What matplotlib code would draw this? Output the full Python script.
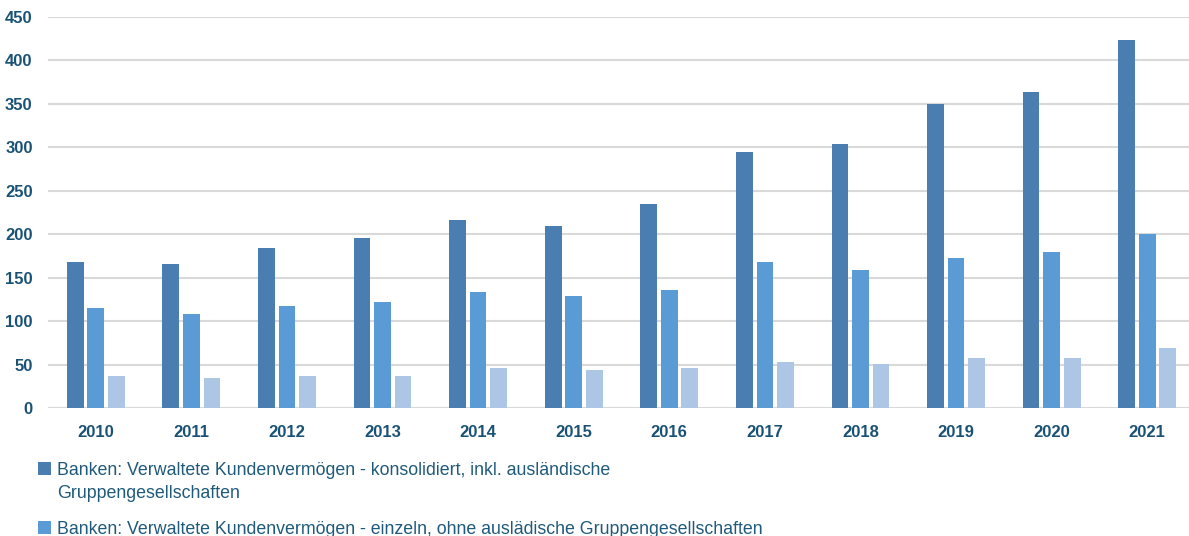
import matplotlib
matplotlib.use("Agg")
import matplotlib.pyplot as plt
from matplotlib.patches import Patch
import numpy as np

years = ["2010", "2011", "2012", "2013", "2014", "2015", "2016", "2017", "2018", "2019", "2020", "2021"]
konsolidiert = [168, 166, 184, 196, 216, 209, 235, 295, 304, 350, 364, 423]
einzeln = [115, 108, 117, 122, 133, 129, 136, 168, 159, 173, 180, 200]
dritte = [37, 35, 37, 37, 46, 44, 46, 53, 51, 58, 58, 69]

label1a = "Banken: Verwaltete Kundenvermögen - konsolidiert, inkl. ausländische"
label1b = "Gruppengesellschaften"
label2 = "Banken: Verwaltete Kundenvermögen - einzeln, ohne auslädische Gruppengesellschaften"

c1, c2, c3 = "#4a7eb0", "#5b9bd5", "#adc6e5"
tick_color = "#1a5276"
text_color = "#1f5a7a"
fam = ["Liberation Sans", "DejaVu Sans"]

W, H = 1189, 536
fig = plt.figure(figsize=(W / 100, H / 100), dpi=100)
ax = fig.add_axes([48 / W, (H - 408) / H, 1147 / W, 391 / H])

x = np.arange(len(years))
bw = 0.175
step = 0.215
b1 = ax.bar(x - step, konsolidiert, bw, color=c1, zorder=3)
b2 = ax.bar(x, einzeln, bw, color=c2, zorder=3)
b3 = ax.bar(x + step, dritte, bw, color=c3, zorder=3)

ax.set_xlim(-0.5, len(years) - 0.5)
ax.set_ylim(0, 450)
ax.set_yticks(np.arange(0, 451, 50))
ax.set_xticks(x)
ax.set_xticklabels(years)
ax.yaxis.grid(True, color="#d9d9d9", linewidth=1.5, zorder=0)
ax.set_axisbelow(True)
for s in ax.spines.values():
    s.set_visible(False)
ax.tick_params(axis="both", length=0, colors=tick_color)
ax.tick_params(axis="y", pad=11)
ax.tick_params(axis="x", pad=12)
for lab in ax.get_xticklabels() + ax.get_yticklabels():
    lab.set_fontfamily(fam)
    lab.set_fontweight("bold")
    lab.set_fontsize(12)
    lab.set_color(tick_color)

blank = Patch(facecolor="none", edgecolor="none")
prop = {"family": fam, "size": 12.8}
legA = fig.legend([b1, blank], [label1a, label1b], loc="upper left",
                  bbox_to_anchor=(22 / W, (H - 446) / H), frameon=False,
                  handlelength=0.75, handleheight=0.75, handletextpad=0.3,
                  labelspacing=0.35, prop=prop)
legB = fig.legend([b2], [label2], loc="upper left",
                  bbox_to_anchor=(22 / W, (H - 505) / H), frameon=False,
                  handlelength=0.75, handleheight=0.75, handletextpad=0.3,
                  prop=prop)
for lg in (legA, legB):
    for t in lg.get_texts():
        t.set_color(text_color)

fig.savefig("out.png", dpi=100)
